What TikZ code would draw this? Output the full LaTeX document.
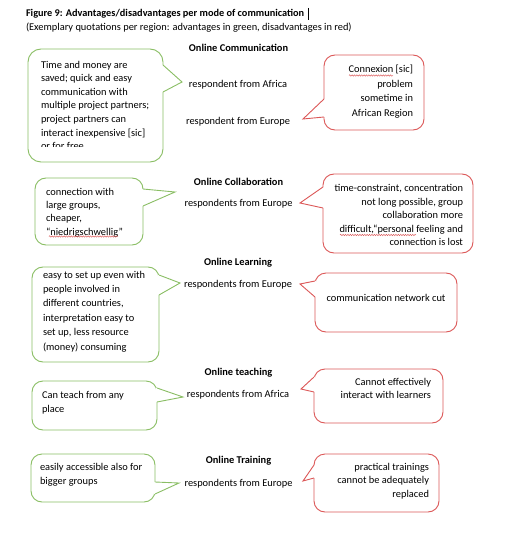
\documentclass[tikz,border=0pt]{standalone}
\usepackage{fontspec}
\setmainfont{Carlito}
\usetikzlibrary{decorations.pathmorphing}
\definecolor{gline}{RGB}{138,190,100}
\definecolor{rline}{RGB}{220,88,88}
\newcommand\ptr[6]{%
  \fill[white] (#2,#3) -- (#5,#6) -- (#2,#4) -- cycle;
  \draw[white, line width=1.6pt] (#2,#3) -- (#2,#4);
  \draw[#1, line width=0.9pt, line join=miter] (#2,#3) -- (#5,#6) -- (#2,#4);}
\begin{document}
\begin{tikzpicture}[x=1pt, y=-1pt,
  every node/.style={inner sep=0pt, outer sep=0pt},
  gbox/.style={draw=gline, line width=0.9pt, rounded corners=11pt, fill=white, anchor=north west},
  rbox/.style={draw=rline, line width=0.9pt, rounded corners=11pt, fill=white, anchor=north west},
  gtext/.style={anchor=north west, align=left},
  rtext/.style={anchor=north east, align=right},
  lab/.style={anchor=base, font=\fontsize{10.4}{12}\selectfont},
  head/.style={anchor=base, font=\fontsize{10.4}{12}\selectfont\bfseries},
  squig/.style={draw=rline, line width=0.45pt, decorate, decoration={snake, amplitude=0.7pt, segment length=2.4pt}}]
\useasboundingbox (0,0) rectangle (505,540);
\fill[white] (0,0) rectangle (505,540);

% title
\node[anchor=base west, font=\fontsize{10.3}{12}\selectfont\bfseries] (title) at (26,16.5)
  {Figure 9: Advantages/disadvantages per mode of communication};
\draw[line width=0.6pt] (308,8) -- (308,20);
\node[anchor=base west, font=\fontsize{10.4}{12}\selectfont] (sub) at (26,30.5)
  {(Exemplary quotations per region: advantages in green, disadvantages in red)};

% labels
\node[head] (h1) at (238.5,52) {Online Communication};
\node[lab] (l1a) at (238,88) {respondent from Africa};
\node[lab] (l1b) at (238,125) {respondent from Europe};
\node[head] (h2) at (238.5,185) {Online Collaboration};
\node[lab] (l2) at (238.5,206) {respondents from Europe};
\node[head] (h3) at (238,265) {Online Learning};
\node[lab] (l3) at (238,287) {respondents from Europe};
\node[head] (h4) at (238.5,375) {Online teaching};
\node[lab] (l4) at (238,397) {respondents from Africa};
\node[head] (h5) at (238.5,463) {Online Training};
\node[lab] (l5) at (238.5,486) {respondents from Europe};

% ---- green 1
\node[gbox, minimum width=135pt, minimum height=113pt, rounded corners=13pt] (g1) at (28,49) {};
\ptr{gline}{163}{65}{92}{182}{82}
\begin{scope}
\clip (28,49) rectangle (163,146.5);
\node[gtext, font=\fontsize{10.4}{13.6}\selectfont] (g1t) at (41,58.5)
 {\strut Time and money are\\saved; quick and easy\\communication with\\multiple project partners;\\project partners can\\interact inexpensive [sic]\\or for free};
\end{scope}

% ---- red 1
\node[rbox, minimum width=100pt, minimum height=75pt] (r1) at (324,55) {};
\ptr{rline}{324}{99}{117}{303}{119}
\node[rtext, font=\fontsize{10.4}{14.4}\selectfont] (r1t) at (413,62.9)
 {\strut Connexion [sic]\\problem\\sometime in\\African Region};
\draw[squig] (349,75.5) -- (393,75.5);

% ---- green 2
\node[gbox, minimum width=108pt, minimum height=67pt] (g2) at (35,178) {};
\ptr{gline}{143}{189}{206}{175}{192}
\node[gtext, font=\fontsize{10.4}{13.4}\selectfont] (g2t) at (46,185.7)
 {\strut connection with\\large groups,\\cheaper,\\“niedrigschwellig”};
\draw[squig] (49,236.5) -- (118,236.5);

% ---- red 2
\node[rbox, minimum width=150pt, minimum height=79pt] (r2) at (323,174) {};
\ptr{rline}{323}{187}{208}{300}{203}
\node[rtext, font=\fontsize{10.4}{13.5}\selectfont] (r2t) at (463,182.5)
 {\strut time-constraint, concentration\\not long possible, group\\collaboration more\\difficult,“personal feeling and\\connection is lost};
\draw[squig] (340,235) -- (416,235);

% ---- green 3
\node[gbox, minimum width=127pt, minimum height=95pt] (g3) at (32,267) {};
\ptr{gline}{159}{275}{295}{180}{283}
\node[gtext, font=\fontsize{10.4}{14.4}\selectfont] (g3t) at (43,268)
 {\strut easy to set up even with\\people involved in\\different countries,\\interpretation easy to\\set up, less resource\\(money) consuming};

% ---- red 3
\node[rbox, minimum width=142pt, minimum height=59pt] (r3) at (315,273) {};
\ptr{rline}{315}{281}{297}{300}{284}
\node[lab] (r3t) at (386,301) {communication network cut};

% ---- green 4
\node[gbox, minimum width=125pt, minimum height=49pt] (g4) at (32,381) {};
\ptr{gline}{157}{388}{402}{183}{397}
\node[gtext, font=\fontsize{10.4}{14}\selectfont] (g4t) at (42,388.2)
 {\strut Can teach from any\\place};

% ---- red 4
\node[rbox, minimum width=129pt, minimum height=54pt] (r4) at (314,369) {};
\ptr{rline}{314}{377}{392}{301}{389}
\node[rtext, font=\fontsize{10.4}{12.8}\selectfont] (r4t) at (431,377)
 {\strut Cannot effectively\\interact with learners};

% ---- green 5
\node[gbox, minimum width=124pt, minimum height=48pt] (g5) at (31,454) {};
\ptr{gline}{155}{482}{494}{179}{483}
\node[gtext, font=\fontsize{10.4}{14.3}\selectfont] (g5t) at (40,460.3)
 {\strut easily accessible also for\\bigger groups};

% ---- red 5
\node[rbox, minimum width=125pt, minimum height=58pt] (r5) at (314,454) {};
\ptr{rline}{314}{465}{478}{303}{481}
\node[rtext, font=\fontsize{10.4}{13.4}\selectfont] (r5t) at (429,461)
 {\strut practical trainings\\cannot be adequately\\replaced};
\end{tikzpicture}
\end{document}
